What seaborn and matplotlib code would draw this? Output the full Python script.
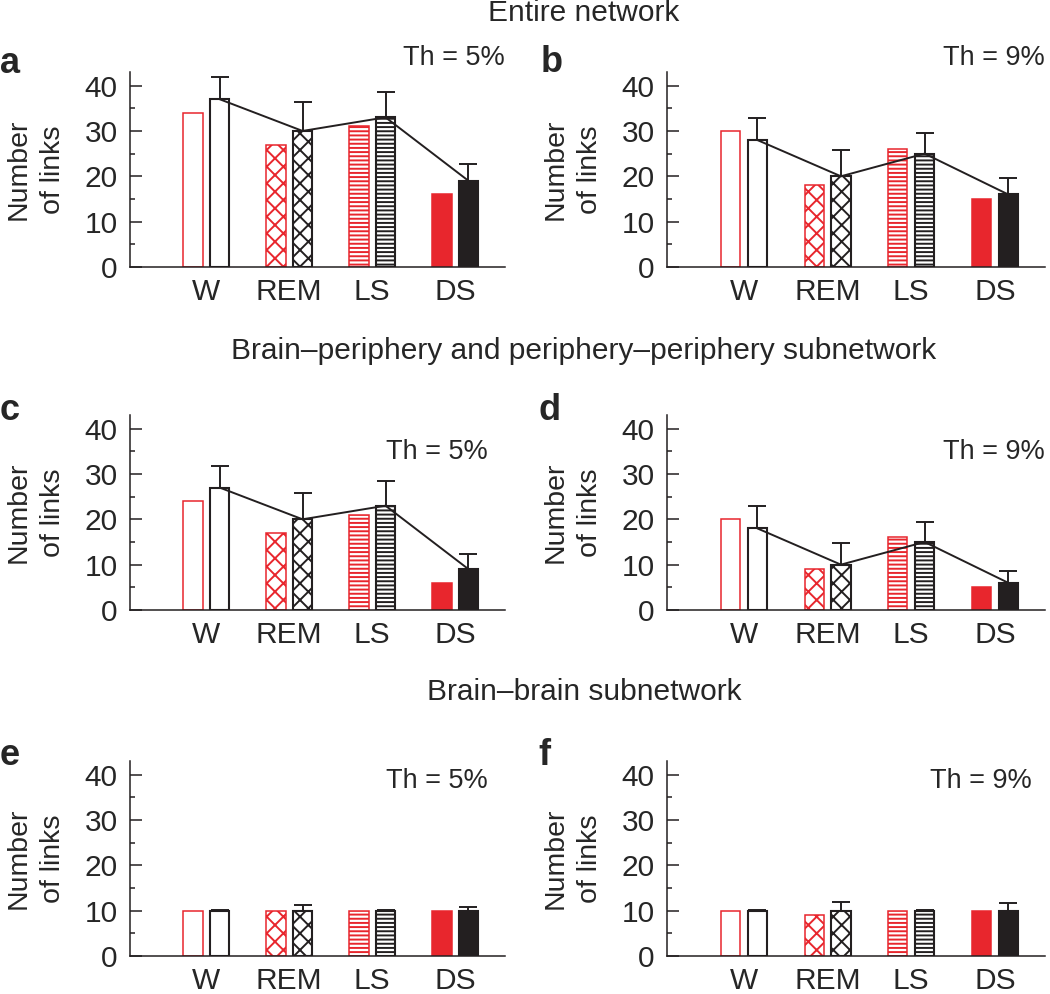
import numpy as np
import pandas as pd
import matplotlib
matplotlib.use("Agg")
from matplotlib import pyplot as plt
from matplotlib.ticker import MultipleLocator
import seaborn as sns

# values
stages = ["W", "REM", "LS", "DS"]
thresholds = ["Th = 5%", "Th = 9%"]

a_red = [34, 27, 31, 16]
a_black = [37, 30, 33, 19]
a_sd = [4.9, 6.4, 5.5, 3.7]

b_red = [30, 18, 26, 15]
b_black = [28, 20, 25, 16]
b_sd = [4.9, 5.7, 4.5, 3.7]

c_red = [24, 17, 21, 6]
c_black = [27, 20, 23, 9]
c_sd = [4.8, 5.8, 5.4, 3.3]

d_red = [20, 9, 16, 5]
d_black = [18, 10, 15, 6]
d_sd = [4.9, 4.7, 4.4, 2.6]

e_red = [10, 10, 10, 10]
e_black = [10, 10, 10, 10]
e_sd = [0.15, 1.3, 0.1, 0.7]

f_red = [10, 9, 10, 10]
f_black = [10, 10, 10, 10]
f_sd = [0.15, 1.9, 0.1, 1.6]

section_titles = ["Entire network",
                  "Brain\u2013periphery and periphery\u2013periphery subnetwork",
                  "Brain\u2013brain subnetwork"]

RED = "#e8262d"
BLACK = "#231f20"
hatches = [None, "xx", "----", None]

sns.set_style("ticks")
plt.rcParams["font.family"] = ["Liberation Sans", "DejaVu Sans"]
plt.rcParams["hatch.linewidth"] = 1.4

fig = plt.figure(figsize=(10.5, 9.94), dpi=100)
W, H = 1050, 994
FS = 21.5


def px_axes(left, bottom, width, height):
    return fig.add_axes([left / W, 1 - bottom / H, width / W, height / H])


def panel(ax, red, black, sd, th, th_pos, letter, letter_pos, show_line=True):
    df = pd.DataFrame({
        "stage": stages * 2,
        "group": ["red"] * 4 + ["black"] * 4,
        "value": red + black,
    })
    sns.barplot(data=df, x="stage", y="value", hue="group", order=stages,
                hue_order=["red", "black"], palette={"red": RED, "black": BLACK},
                width=0.64, gap=0.28, errorbar=None, legend=False, ax=ax)

    for cont, col, lw in zip(ax.containers, [RED, BLACK], [1.1, 1.5]):
        for i, p in enumerate(cont.patches):
            p.set_edgecolor(col)
            p.set_linewidth(lw)
            if i == 3:
                p.set_facecolor(col)
            else:
                p.set_facecolor("white")
                if hatches[i]:
                    p.set_hatch(hatches[i])

    xs = [p.get_x() + p.get_width() / 2 for p in ax.containers[1].patches]
    ax.errorbar(xs, black, yerr=[np.zeros(4), sd], fmt="none", ecolor=BLACK,
                elinewidth=1.4, capsize=6.5, capthick=1.4, zorder=1)
    if show_line:
        sns.lineplot(x=xs, y=black, ax=ax, color=BLACK, lw=1.4, zorder=5)

    ax.set_xlim(-0.92, 3.6)
    ax.set_ylim(0, 43)
    ax.set_yticks([0, 10, 20, 30, 40])
    ax.yaxis.set_minor_locator(MultipleLocator(5))
    ax.tick_params(axis="y", which="major", direction="in", length=8.5,
                   width=1.1, pad=9, labelsize=FS, color=BLACK)
    ax.tick_params(axis="y", which="minor", direction="in", length=3.8,
                   width=1.1, color=BLACK)
    ax.tick_params(axis="x", length=0, pad=8, labelsize=FS)
    ax.set_xlabel("")
    ax.set_ylabel("Number\nof links", fontsize=20.5, labelpad=13, linespacing=1.42)
    sns.despine(ax=ax)
    for s in ["left", "bottom"]:
        ax.spines[s].set_linewidth(1.1)
        ax.spines[s].set_color(BLACK)
    ax.text(th_pos[0], th_pos[1], th, transform=ax.transAxes, ha="right",
            va="center", fontsize=19.5)
    fig.text(letter_pos[0] / W, 1 - letter_pos[1] / H, letter, fontsize=26,
             fontweight="bold", ha="left", va="baseline")


axh = 195
ax_a = px_axes(130, 267, 375, axh)
ax_b = px_axes(667, 267, 378, axh)
ax_c = px_axes(130, 610, 375, axh)
ax_d = px_axes(667, 610, 378, axh)
ax_e = px_axes(130, 956, 375, axh)
ax_f = px_axes(667, 956, 378, axh)

panel(ax_a, a_red, a_black, a_sd, thresholds[0], (1.0, 1.072), "a", (0, 73))
panel(ax_b, b_red, b_black, b_sd, thresholds[1], (1.0, 1.072), "b", (541, 72))
panel(ax_c, c_red, c_black, c_sd, thresholds[0], (0.955, 0.81), "c", (0, 420))
panel(ax_d, d_red, d_black, d_sd, thresholds[1], (1.0, 0.81), "d", (538, 420))
panel(ax_e, e_red, e_black, e_sd, thresholds[0], (0.955, 0.90), "e", (0, 765), show_line=False)
panel(ax_f, f_red, f_black, f_sd, thresholds[1], (0.966, 0.90), "f", (538, 765), show_line=False)

for title, y in zip(section_titles, [13, 351, 692]):
    fig.text(584 / W, 1 - y / H, title, fontsize=FS, ha="center", va="center")

fig.savefig("out.png", dpi=100)
